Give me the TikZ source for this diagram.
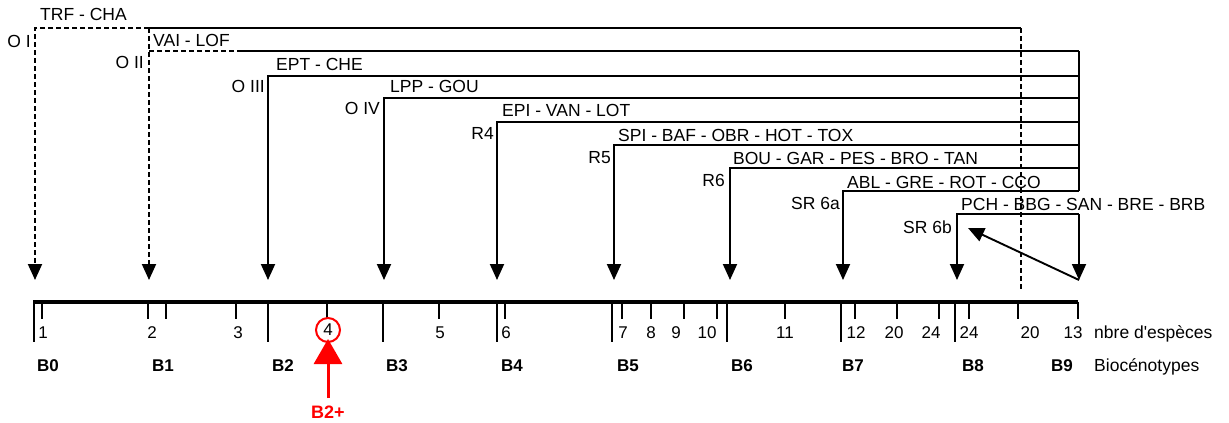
\documentclass[tikz,border=0pt]{standalone}
\usepackage{fontspec}
\setmainfont{Liberation Sans}
\usetikzlibrary{arrows.meta}
\begin{document}
\begin{tikzpicture}[x=1pt,y=-1pt,
  ln/.style={line width=1.9pt},
  dsh/.style={line width=1.9pt, dash pattern=on 5pt off 3pt},
  arr/.style={-{Triangle[width=14pt,length=16pt]}},
  lab/.style={font=\fontsize{17.5}{20}\selectfont, inner sep=0pt},
  blab/.style={font=\fontsize{17}{20}\selectfont\bfseries, inner sep=0pt},
  num/.style={font=\fontsize{17}{20}\selectfont, inner sep=0pt, anchor=base},
  redc/.style={red, line width=2pt}
]
\useasboundingbox (0,0) rectangle (1229,423);
% ---------- group O I (dashed) ----------
\coordinate (a1) at (35,28);
\coordinate (a1m) at (149,28);
\coordinate (a1r) at (1021,28);
\coordinate (a1d) at (1021,290);
\coordinate (a1t) at (35,280);
\draw[dsh,arr] (a1m) -- (a1) -- (a1t);
\draw[ln] (a1m) -- (a1r);
\draw[dsh] (a1r) -- (a1d);
% ---------- group O II ----------
\coordinate (a2) at (149,51);
\coordinate (a2m) at (240,51);
\coordinate (a2r) at (1079,51);
\coordinate (a2t) at (149,280);
\draw[dsh,arr] (a1m) -- (a2t);
\draw[dsh] (a2) -- (a2m);
\draw[ln] (a2m) -- (a2r);
% ---------- solid groups ----------
\foreach \n/\x/\y in {3/268/76, 4/384/98, 5/497/122, 6/614/145, 7/730/168, 8/843/191}{
  \coordinate (g\n) at (\x,\y);
  \coordinate (g\n-r) at (1079,\y);
  \coordinate (g\n-t) at (\x,280);
  \draw[ln,arr] (g\n-r) -- (g\n) -- (g\n-t);
}
\draw[ln] (a2r) -- (g8-r);
% ---------- SR 6b ----------
\coordinate (g9) at (957,214);
\coordinate (g9r) at (1079,214);
\coordinate (g9t) at (957,280);
\coordinate (g9rt) at (1079,280);
\coordinate (g9d) at (968,228);
\draw[ln,arr] (g9r) -- (g9) -- (g9t);
\draw[ln,arr] (g9r) -- (g9rt);
\draw[ln,arr] (g9rt) -- (g9d);
% ---------- group labels ----------
\node[lab,anchor=base west] (t1) at (40,20) {TRF - CHA};
\node[lab,anchor=base east] (l1) at (31,47) {O I};
\node[lab,anchor=base west] (t2) at (153,46) {VAI - LOF};
\node[lab,anchor=base east] (l2) at (144,68) {O II};
\node[lab,anchor=base west] (t3) at (276,70) {EPT - CHE};
\node[lab,anchor=base east] (l3) at (265,92) {O III};
\node[lab,anchor=base west] (t4) at (390,92) {LPP - GOU};
\node[lab,anchor=base east] (l4) at (380,114) {O IV};
\node[lab,anchor=base west] (t5) at (502,116) {EPI - VAN - LOT};
\node[lab,anchor=base east] (l5) at (494,139) {R4};
\node[lab,anchor=base west] (t6) at (618,141) {SPI - BAF - OBR - HOT - TOX};
\node[lab,anchor=base east] (l6) at (611,163) {R5};
\node[lab,anchor=base west] (t7) at (733,164) {BOU - GAR - PES - BRO - TAN};
\node[lab,anchor=base east] (l7) at (725,186) {R6};
\node[lab,anchor=base west] (t8) at (847,188) {ABL - GRE - ROT - CCO};
\node[lab,anchor=base east] (l8) at (840,209) {SR 6a};
\node[lab,anchor=base west] (t9) at (961,210) {PCH - BBG - SAN - BRE - BRB};
\node[lab,anchor=base east] (l9) at (952,233) {SR 6b};
% ---------- axis ----------
\coordinate (ax0) at (34,302);
\coordinate (ax1) at (1078,302);
\draw[line width=4pt] (ax0) -- (ax1);
\foreach \x [count=\i] in {34,268,383,497,612,727,841,955}{
  \coordinate (L\i) at (\x,300);
  \coordinate (L\i-b) at (\x,342);
  \draw[line width=1.8pt] (L\i) -- (L\i-b);
}
\foreach \x [count=\i] in {42,148,166,236,327,439,505,622,651,684,717,785,855,897,939,969,1018,1078}{
  \coordinate (S\i) at (\x,302);
  \coordinate (S\i-b) at (\x,319);
  \draw[line width=1.6pt] (S\i) -- (S\i-b);
}
\foreach \x/\t [count=\i] in {43/1,152/2,238/3,440/5,506/6,623/7,651/8,676/9,707/10,785/11,856/12,894/20,931/24,969/24,1030/20,1073/13}{
  \node[num] (N\i) at (\x,338) {\t};
}
\node[num, circle, draw=red, line width=2pt, inner sep=0pt, minimum size=24pt, anchor=center] (n4) at (328,330) {4};
\node[lab,anchor=base west] (nb) at (1094,338) {nbre d\textquotesingle espèces};
\foreach \x/\t [count=\i] in {48/B0,163/B1,283/B2,397/B3,512/B4,628/B5,742/B6,853/B7,973/B8,1062/B9}{
  \node[blab,anchor=base] (B\i) at (\x,371) {\t};
}
\node[lab,anchor=base west] (bio) at (1094,371) {Biocénotypes};
% ---------- red annotation ----------
\node[font=\fontsize{18}{20}\selectfont\bfseries, text=red, inner sep=0pt] (b2p) at (328,412) {B2+};
\coordinate (b2a) at (328,398);
\draw[red, line width=3pt, -{Triangle[width=28pt,length=25pt]}] (b2a) -- ([yshift=4pt]n4.south);
\end{tikzpicture}
\end{document}
